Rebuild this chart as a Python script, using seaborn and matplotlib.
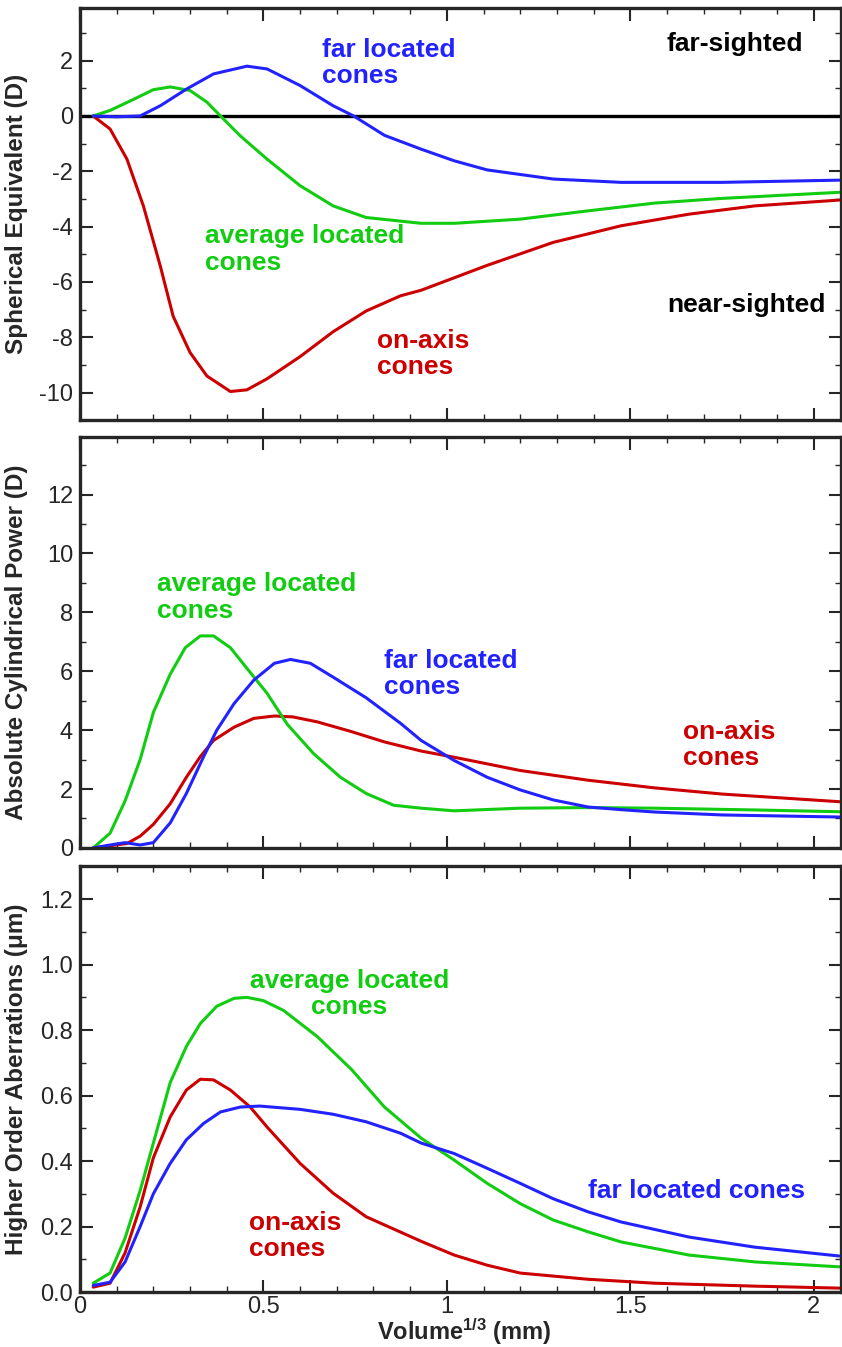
import numpy as np
import pandas as pd
import matplotlib
matplotlib.use("Agg")
import matplotlib.pyplot as plt
import seaborn as sns
from matplotlib.ticker import MultipleLocator, FuncFormatter

sns.set_theme(style="ticks")
plt.rcParams["font.family"] = ["Liberation Sans", "DejaVu Sans"]
plt.rcParams["axes.unicode_minus"] = False
plt.rcParams["mathtext.default"] = "regular"

# colours of the three cone groups
pal = {"on-axis": "#cc0000", "average": "#11cc11", "far": "#2222ff"}

# ---- Spherical Equivalent (D) ----
se_on_x = [0.036, 0.082, 0.128, 0.173, 0.219, 0.254, 0.30, 0.346, 0.41, 0.455, 0.51, 0.60, 0.69, 0.78,
           0.874, 0.93, 1.02, 1.11, 1.29, 1.475, 1.66, 1.84, 2.07]
se_on_y = [0, -0.47, -1.56, -3.26, -5.43, -7.24, -8.55, -9.4, -9.96, -9.9, -9.5, -8.7, -7.8, -7.05,
           -6.5, -6.3, -5.85, -5.4, -4.57, -3.97, -3.55, -3.25, -3.04]
se_avg_x = [0.036, 0.082, 0.146, 0.20, 0.246, 0.30, 0.346, 0.383, 0.437, 0.51, 0.60, 0.69, 0.78, 0.93,
            1.02, 1.20, 1.385, 1.566, 1.75, 2.07]
se_avg_y = [0, 0.2, 0.6, 0.95, 1.05, 0.92, 0.5, 0, -0.72, -1.56, -2.52, -3.25, -3.67, -3.88,
            -3.88, -3.73, -3.43, -3.15, -2.98, -2.76]
se_far_x = [0.036, 0.10, 0.164, 0.219, 0.29, 0.364, 0.455, 0.51, 0.60, 0.69, 0.746, 0.83, 0.93,
            1.02, 1.11, 1.29, 1.475, 1.75, 2.07]
se_far_y = [0, -0.03, 0, 0.37, 0.97, 1.52, 1.8, 1.7, 1.1, 0.37, 0, -0.7, -1.2,
            -1.62, -1.95, -2.28, -2.4, -2.4, -2.32]

# ---- Absolute Cylindrical Power (D) ----
cp_on_x = [0.036, 0.128, 0.164, 0.20, 0.246, 0.29, 0.328, 0.364, 0.42, 0.474, 0.53, 0.58, 0.647, 0.74,
           0.83, 0.93, 1.02, 1.20, 1.385, 1.566, 1.75, 2.07]
cp_on_y = [0, 0.15, 0.4, 0.8, 1.5, 2.4, 3.1, 3.65, 4.1, 4.4, 4.48, 4.45, 4.28, 3.95,
           3.6, 3.29, 3.08, 2.63, 2.3, 2.04, 1.83, 1.57]
cp_avg_x = [0.036, 0.082, 0.123, 0.164, 0.20, 0.246, 0.287, 0.328, 0.364, 0.41, 0.455, 0.51, 0.565,
            0.637, 0.71, 0.78, 0.855, 0.93, 1.02, 1.20, 1.385, 1.566, 1.84, 2.07]
cp_avg_y = [0, 0.5, 1.6, 3.0, 4.6, 5.9, 6.8, 7.2, 7.2, 6.8, 6.1, 5.25, 4.2,
            3.2, 2.4, 1.85, 1.45, 1.35, 1.26, 1.35, 1.37, 1.35, 1.29, 1.23]
cp_far_x = [0.036, 0.082, 0.123, 0.164, 0.20, 0.246, 0.29, 0.337, 0.373, 0.42, 0.474, 0.53, 0.574,
            0.628, 0.69, 0.78, 0.874, 0.93, 1.02, 1.11, 1.20, 1.29, 1.385, 1.475, 1.566, 1.75, 2.07]
cp_far_y = [0, 0.1, 0.18, 0.1, 0.18, 0.85, 1.85, 3.1, 4.0, 4.9, 5.7, 6.27, 6.4,
            6.27, 5.8, 5.1, 4.23, 3.65, 2.97, 2.4, 1.97, 1.63, 1.39, 1.3, 1.22, 1.12, 1.05]

# ---- Higher Order Aberrations (um) ----
ho_on_x = [0.036, 0.082, 0.123, 0.164, 0.20, 0.246, 0.29, 0.328, 0.364, 0.41, 0.464, 0.51, 0.60,
           0.69, 0.78, 0.93, 1.02, 1.11, 1.20, 1.385, 1.566, 1.84, 2.07]
ho_on_y = [0.015, 0.027, 0.12, 0.26, 0.41, 0.535, 0.617, 0.65, 0.648, 0.617, 0.565, 0.504, 0.393,
           0.302, 0.23, 0.155, 0.113, 0.082, 0.058, 0.039, 0.027, 0.018, 0.012]
ho_avg_x = [0.036, 0.082, 0.123, 0.164, 0.20, 0.246, 0.29, 0.328, 0.373, 0.42, 0.455, 0.50, 0.555,
            0.647, 0.74, 0.83, 0.93, 1.02, 1.11, 1.20, 1.29, 1.385, 1.475, 1.66, 1.84, 2.07]
ho_avg_y = [0.027, 0.058, 0.165, 0.31, 0.455, 0.64, 0.75, 0.82, 0.873, 0.897, 0.9, 0.89, 0.86,
            0.78, 0.68, 0.565, 0.47, 0.403, 0.332, 0.27, 0.22, 0.184, 0.153, 0.113, 0.092, 0.077]
ho_far_x = [0.036, 0.082, 0.123, 0.164, 0.20, 0.246, 0.29, 0.337, 0.383, 0.437, 0.49, 0.60, 0.69,
            0.78, 0.874, 0.93, 1.02, 1.11, 1.20, 1.29, 1.385, 1.475, 1.66, 1.84, 2.07]
ho_far_y = [0.02, 0.03, 0.092, 0.2, 0.3, 0.393, 0.465, 0.515, 0.55, 0.565, 0.568, 0.558, 0.543,
            0.52, 0.485, 0.455, 0.423, 0.378, 0.332, 0.285, 0.245, 0.214, 0.168, 0.137, 0.11]


def long_frame(parts):
    frames = []
    for name, xs, ys in parts:
        frames.append(pd.DataFrame({"x": xs, "y": ys, "cones": name}))
    return pd.concat(frames, ignore_index=True)


se_df = long_frame([("on-axis", se_on_x, se_on_y), ("average", se_avg_x, se_avg_y), ("far", se_far_x, se_far_y)])
cp_df = long_frame([("on-axis", cp_on_x, cp_on_y), ("average", cp_avg_x, cp_avg_y), ("far", cp_far_x, cp_far_y)])
ho_df = long_frame([("on-axis", ho_on_x, ho_on_y), ("average", ho_avg_x, ho_avg_y), ("far", ho_far_x, ho_far_y)])

fig = plt.figure(figsize=(8.42, 13.47), dpi=100)
ax1 = fig.add_axes([0.095, 0.688, 0.904, 0.306])
ax2 = fig.add_axes([0.095, 0.3705, 0.904, 0.305])
ax3 = fig.add_axes([0.095, 0.0408, 0.904, 0.316])

for ax, df in [(ax1, se_df), (ax2, cp_df), (ax3, ho_df)]:
    sns.lineplot(data=df, x="x", y="y", hue="cones", palette=pal, estimator=None, sort=False,
                 lw=2.2, legend=False, ax=ax)
    ax.set_xlim(0, 2.075)
    ax.xaxis.set_major_locator(MultipleLocator(0.5))
    ax.xaxis.set_minor_locator(MultipleLocator(0.1))
    ax.tick_params(which="both", direction="in", top=True, right=True, labelsize=17, pad=5)
    ax.tick_params(which="major", length=9, width=1.5)
    ax.tick_params(which="minor", length=4, width=1.0)
    for s in ax.spines.values():
        s.set_linewidth(2.4)
    ax.yaxis.set_label_coords(-0.068, 0.5)

ax1.axhline(0, color="black", lw=2.4, zorder=1)

ax1.set_ylim(-11, 3.9)
ax1.set_yticks(range(-10, 3, 2))
ax1.yaxis.set_minor_locator(MultipleLocator(1))
ax1.set_xticklabels([])
ax1.set_xlabel("")
ax1.set_ylabel("Spherical Equivalent (D)", fontsize=17.5, fontweight="bold")

ax2.set_ylim(0, 13.95)
ax2.set_yticks(range(0, 13, 2))
ax2.yaxis.set_minor_locator(MultipleLocator(1))
ax2.set_xticklabels([])
ax2.set_xlabel("")
ax2.set_ylabel("Absolute Cylindrical Power (D)", fontsize=17.5, fontweight="bold")

ax3.set_ylim(0, 1.3)
ax3.set_yticks(np.arange(0, 1.21, 0.2))
ax3.yaxis.set_major_formatter(FuncFormatter(lambda v, p: "%.1f" % v))
ax3.yaxis.set_minor_locator(MultipleLocator(0.1))
ax3.xaxis.set_major_formatter(FuncFormatter(lambda v, p: "%g" % v))
ax3.tick_params(axis="x", pad=3)
ax3.set_ylabel("Higher Order Aberrations (\u03bcm)", fontsize=17.5, fontweight="bold")
ax3.set_xlabel("Volume$^{1/3}$ (mm)", fontsize=17, fontweight="bold")
ax3.xaxis.set_label_coords(0.505, -0.058)

kw = dict(fontsize=19, fontweight="bold", va="center", linespacing=1.12)
ax1.text(0.66, 1.92, "far located\ncones", color=pal["far"], **kw)
ax1.text(0.34, -4.83, "average located\ncones", color=pal["average"], **kw)
ax1.text(0.81, -8.6, "on-axis\ncones", color=pal["on-axis"], **kw)
ax1.text(1.60, 2.6, "far-sighted", color="black", **kw)
ax1.text(1.60, -6.85, "near-sighted", color="black", **kw)

ax2.text(0.21, 8.5, "average located\ncones", color=pal["average"], **kw)
ax2.text(0.83, 5.9, "far located\ncones", color=pal["far"], **kw)
ax2.text(1.645, 3.5, "on-axis\ncones", color=pal["on-axis"], **kw)

ax3.text(0.735, 0.91, "average located\ncones", color=pal["average"], ha="center", multialignment="center", **kw)
ax3.text(0.462, 0.172, "on-axis\ncones", color=pal["on-axis"], **kw)
ax3.text(1.385, 0.31, "far located cones", color=pal["far"], **kw)

fig.savefig("out.png", dpi=100)
